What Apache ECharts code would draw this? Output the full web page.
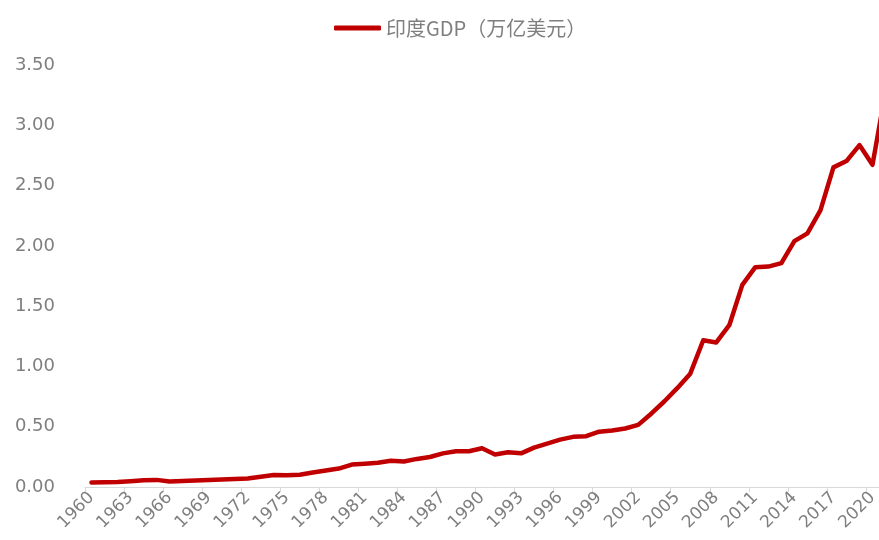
<!DOCTYPE html>
<html>
<head>
<meta charset="utf-8">
<script src="https://cdn.jsdelivr.net/npm/echarts@6/dist/echarts.min.js"></script>
<style>
  html, body { margin: 0; padding: 0; overflow: hidden; background: #fff; }
  /* the reference is cropped on the right: draw a bit wider than the window */
  #main { width: 892px; height: 540px; }
</style>
</head>
<body>
<div id="main"></div>
<script>
var years = [];
for (var y = 1960; y <= 2021; y++) years.push(String(y));

// 印度GDP（万亿美元）
var gdp = [
  0.037, 0.039, 0.042, 0.048, 0.056, 0.059, 0.046, 0.050, 0.053, 0.058,
  0.062, 0.067, 0.071, 0.085, 0.099, 0.098, 0.102, 0.121, 0.137, 0.153,
  0.186, 0.193, 0.201, 0.218, 0.212, 0.233, 0.249, 0.279, 0.296, 0.296,
  0.321, 0.270, 0.288, 0.279, 0.327, 0.360, 0.393, 0.416, 0.421, 0.459,
  0.468, 0.485, 0.515, 0.608, 0.709, 0.820, 0.940, 1.217, 1.199, 1.342,
  1.676, 1.823, 1.828, 1.857, 2.039, 2.104, 2.295, 2.651, 2.703, 2.836,
  2.672, 3.280
];

var seriesName = '印度GDP（万亿美元）';
var labelColor = '#7f7f7f';
var labelFont = '"DejaVu Sans", sans-serif';

var chart = echarts.init(document.getElementById('main'));
var option = {
    backgroundColor: '#ffffff',
    animation: false,
    legend: {
        left: 329,
        top: 13,
        icon: 'roundRect',
        itemWidth: 47,
        itemHeight: 5,
        itemGap: 10,
        data: [seriesName],
        itemStyle: { color: '#c00000' },
        textStyle: {
            color: labelColor,
            fontSize: 20,
            fontFamily: '"Noto Sans CJK SC", sans-serif'
        }
    },
    grid: {
        left: 85,
        right: 0,
        top: 65,
        bottom: 53
    },
    xAxis: {
        type: 'category',
        data: years,
        boundaryGap: true,
        axisLine: {
            show: true,
            lineStyle: { color: '#d9d9d9', width: 1 }
        },
        axisTick: {
            show: true,
            interval: 2,
            length: 5,
            lineStyle: { color: '#d9d9d9' }
        },
        axisLabel: {
            interval: 2,
            rotate: 45,
            margin: 8,
            color: labelColor,
            fontSize: 17,
            fontFamily: labelFont
        },
        splitLine: { show: false }
    },
    yAxis: {
        type: 'value',
        min: 0,
        max: 3.5,
        interval: 0.5,
        axisLine: { show: false },
        axisTick: { show: false },
        splitLine: { show: false },
        axisLabel: {
            margin: 30,
            color: labelColor,
            fontSize: 18,
            fontFamily: labelFont,
            formatter: function (v) { return v.toFixed(2); }
        }
    },
    series: [{
        name: seriesName,
        type: 'line',
        data: gdp,
        symbol: 'none',
        smooth: false,
        lineStyle: {
            color: '#c00000',
            width: 4.5,
            cap: 'round',
            join: 'round'
        },
        itemStyle: { color: '#c00000' }
    }]
};
chart.setOption(option);
</script>
</body>
</html>
